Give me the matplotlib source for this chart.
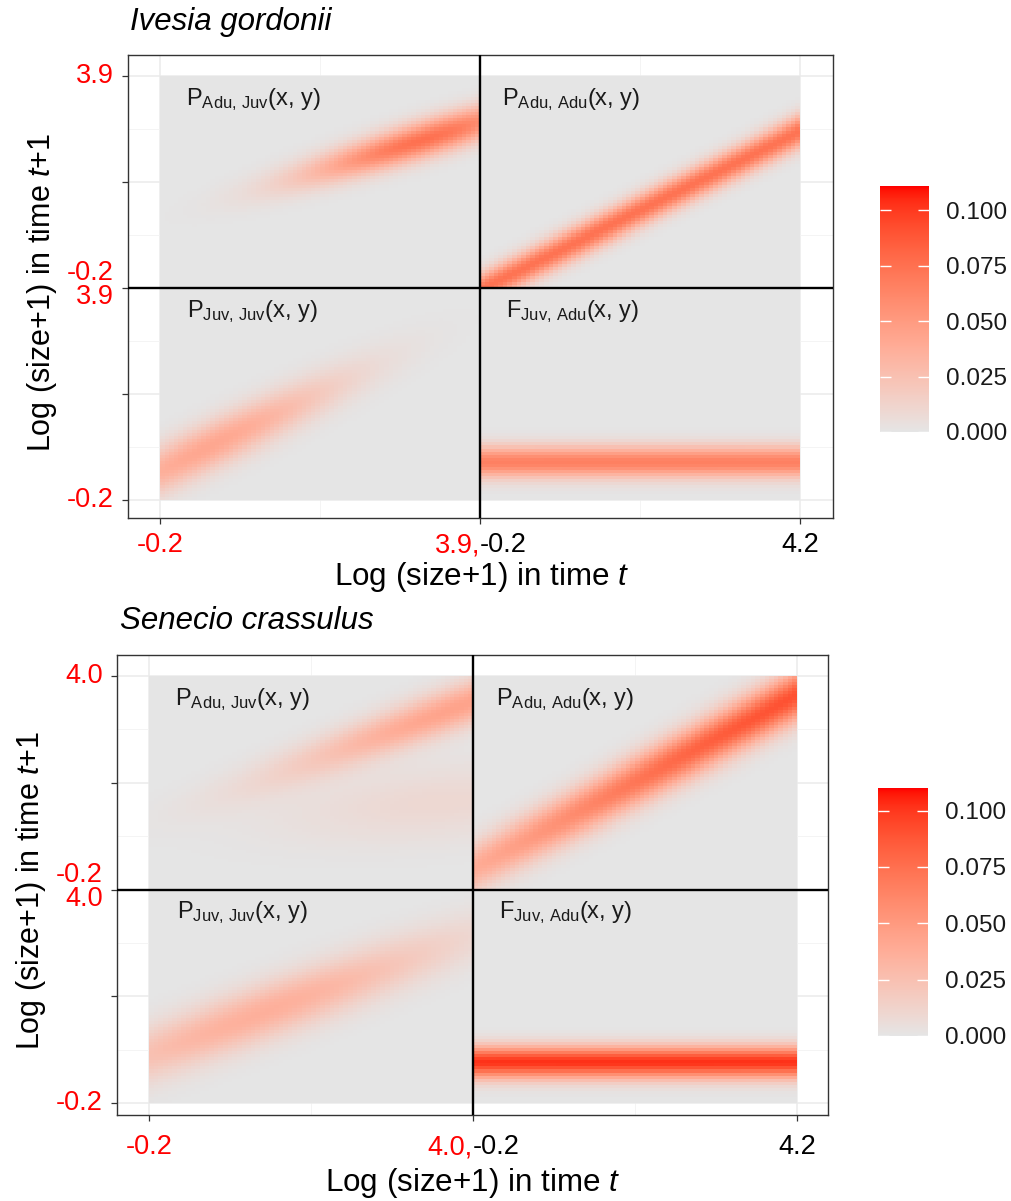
import numpy as np
import matplotlib
matplotlib.use("Agg")
import matplotlib.pyplot as plt
from matplotlib.colors import ListedColormap, Normalize
from matplotlib.transforms import offset_copy

plt.rcParams['font.family'] = ['Liberation Sans', 'DejaVu Sans']
plt.rcParams['mathtext.fontset'] = 'custom'
plt.rcParams['mathtext.rm'] = 'Liberation Sans'
plt.rcParams['mathtext.it'] = 'Liberation Sans:italic'
plt.rcParams['mathtext.bf'] = 'Liberation Sans:bold'

# ---------------- data ----------------
species = ["Ivesia gordonii", "Senecio crassulus"]
juv_max = ["3.9", "4.0"]          # upper size limit of juvenile range
size_min = "-0.2"
adu_max = "4.2"
block_labels = [r"P$_{\mathrm{Adu,\,Juv}}$(x, y)", r"P$_{\mathrm{Adu,\,Adu}}$(x, y)",
                r"P$_{\mathrm{Juv,\,Juv}}$(x, y)", r"F$_{\mathrm{Juv,\,Adu}}$(x, y)"]
cbar_ticks = [0.0, 0.025, 0.05, 0.075, 0.1]
vmax = [0.111, 0.110]
n_mesh = 70  # mesh points per stage

# kernel bands (block-relative units):
# [intercept, slope, sd, peak value, x of peak, x spread]
ig_P_juv_juv = [[0.14, 0.72, 0.078, 0.042, 0.15, 0.28]]
ig_P_adu_juv = [[0.33, 0.45, 0.058, 0.075, 0.82, 0.25]]
ig_P_adu_adu = [[-0.01, 0.75, 0.052, 0.074, 0.50, 5.0]]
ig_F_juv_adu = [[0.18, 0.00, 0.05, 0.066, 0.50, 5.0]]

sc_P_juv_juv = [[0.23, 0.55, 0.09, 0.036, 0.35, 0.40]]
sc_P_adu_juv = [[0.33, 0.55, 0.07, 0.044, 0.95, 0.35],
                [0.30, 0.12, 0.12, 0.009, 0.90, 0.35]]
sc_P_adu_adu = [[0.10, 0.81, 0.08, 0.090, 1.05, 0.80]]
sc_F_juv_adu = [[0.19, 0.00, 0.05, 0.102, 0.50, 5.0]]

# ---------------- colour scale (Lab interpolation grey90 -> red) ----------------
M_ = np.array([[0.4124564, 0.3575761, 0.1804375],
               [0.2126729, 0.7151522, 0.0721750],
               [0.0193339, 0.1191920, 0.9503041]])
WP = np.array([0.95047, 1.0, 1.08883])

def srgb_to_lab(c):
    c = np.asarray(c, float)
    lin = np.where(c <= 0.04045, c / 12.92, ((c + 0.055) / 1.055) ** 2.4)
    t = (M_ @ lin) / WP
    f = np.where(t > (6 / 29) ** 3, np.cbrt(t), t / (3 * (6 / 29) ** 2) + 4 / 29)
    return np.array([116 * f[1] - 16, 500 * (f[0] - f[1]), 200 * (f[1] - f[2])])

def lab_to_srgb(lab):
    L, a, b = lab
    fy_ = (L + 16) / 116
    f = np.array([fy_ + a / 500, fy_, fy_ - b / 200])
    t = np.where(f > 6 / 29, f ** 3, 3 * (6 / 29) ** 2 * (f - 4 / 29))
    lin = np.clip(np.linalg.inv(M_) @ (t * WP), 0, 1)
    c = np.where(lin <= 0.0031308, 12.92 * lin, 1.055 * lin ** (1 / 2.4) - 0.055)
    return np.clip(c, 0, 1)

lo = srgb_to_lab(np.array([0xE5, 0xE5, 0xE5]) / 255)
hi = srgb_to_lab(np.array([1.0, 0.0, 0.0]))
cols = [lab_to_srgb(lo + t * (hi - lo)) for t in np.linspace(0, 1, 256)]
cmap = ListedColormap(cols)

def block(params, n):
    u = (np.arange(n) + 0.5) / n
    U, V = np.meshgrid(u, u)
    out = np.zeros((n, n))
    for a, b, s, pk, um, uw in params:
        A = pk * np.exp(-0.5 * ((U - um) / uw) ** 2)
        out += A * np.exp(-0.5 * ((V - (a + b * U)) / s) ** 2)
    return out

def full_kernel(pjj, paj, paa, fja, n):
    K = np.zeros((2 * n, 2 * n))
    K[:n, :n] = block(pjj, n)
    K[n:, :n] = block(paj, n)
    K[n:, n:] = block(paa, n)
    K[:n, n:] = block(fja, n)
    return K

kernels = [full_kernel(ig_P_juv_juv, ig_P_adu_juv, ig_P_adu_adu, ig_F_juv_adu, n_mesh),
           full_kernel(sc_P_juv_juv, sc_P_adu_juv, sc_P_adu_adu, sc_F_juv_adu, n_mesh)]

# ---------------- layout (pixels) ----------------
W, H = 1011, 1201
fig = plt.figure(figsize=(W / 100, H / 100), dpi=100)

def fx(x): return x / W
def fy(y): return 1 - y / H

# axes box (left, right, top, bottom) and heat extent (left, right, top, bottom)
boxes = [(128, 833, 55, 518), (117, 828, 655, 1115)]
heats = [(160, 800, 76, 500), (149, 797, 676, 1103)]
cbars = [(880, 929, 186, 432), (878, 928, 788, 1036)]
titles_xy = [(130, 22), (120, 621)]
xlab_xy = [(482, 577), (473, 1183)]
ylab_xy = [(42, 292), (31, 890)]
xtick_off = [-14, -19]
lbl_pos = [(0.08, 1.89), (1.07, 1.89), (0.085, 0.89), (1.08, 0.89)]

for k in range(2):
    L, R, T, B = boxes[k]
    hl, hr, ht, hb = heats[k]
    ax = fig.add_axes([fx(L), fy(B), fx(R) - fx(L), fy(T) - fy(B)])
    ux = (hr - hl) / 2
    uy = (hb - ht) / 2
    ax.set_xlim((L - hl) / ux, (R - hl) / ux)
    ax.set_ylim((hb - B) / uy, (hb - T) / uy)
    ax.set_facecolor('white')
    norm = Normalize(0, vmax[k])
    im = ax.imshow(kernels[k], origin='lower', extent=[0, 2, 0, 2], aspect='auto',
                   cmap=cmap, norm=norm, interpolation='nearest', zorder=1)
    ax.set_xticks([0, 1, 2])
    ax.set_xticks([0.5, 1.5], minor=True)
    ax.set_yticks([0, 0.5, 1, 1.5, 2])
    ax.set_yticks([0.25, 0.75, 1.25, 1.75], minor=True)
    ax.grid(True, which='major', color='#EBEBEB', lw=1.1, zorder=0)
    ax.grid(True, which='minor', color='#F2F2F2', lw=0.6, zorder=0)
    ax.set_axisbelow(True)
    ax.tick_params(which='major', length=4, width=0.9, color='#333333')
    ax.tick_params(which='minor', length=0)
    ax.set_xticklabels([])
    ax.set_yticklabels([])
    for s in ax.spines.values():
        s.set_color('#333333')
        s.set_linewidth(1.0)
    ax.axhline(1, color='black', lw=1.7, zorder=3)
    ax.axvline(1, color='black', lw=1.7, zorder=3)
    for (tx, ty), lab in zip(lbl_pos, block_labels):
        ax.text(tx, ty, lab, fontsize=17, ha='left', va='center', color='#1A1A1A', zorder=4)

    # x tick labels
    xt = offset_copy(ax.get_xaxis_transform(), fig=fig, x=0, y=xtick_off[k], units='dots')
    fs_t = 19.5
    ax.text(0, 0, size_min, transform=xt, ha='center', va='top', fontsize=fs_t, color='red')
    ax.text(1, 0, juv_max[k] + ",", transform=xt, ha='right', va='top', fontsize=fs_t, color='red')
    ax.text(1, 0, size_min, transform=xt, ha='left', va='top', fontsize=fs_t, color='black')
    ax.text(2, 0, adu_max, transform=xt, ha='center', va='top', fontsize=fs_t, color='black')
    # y tick labels
    yt = offset_copy(ax.get_yaxis_transform(), fig=fig, x=-14, y=0, units='dots')
    ax.text(0, 0, size_min, transform=yt, ha='right', va='center', fontsize=fs_t, color='red')
    ax.text(0, 2, juv_max[k], transform=yt, ha='right', va='center', fontsize=fs_t, color='red')
    yt2 = offset_copy(ax.get_yaxis_transform(), fig=fig, x=-14, y=3, units='dots')
    ax.text(0, 1, size_min + "\n" + juv_max[k], transform=yt2, ha='right', va='center',
            fontsize=fs_t, color='red', linespacing=0.9, multialignment='right')

    fig.text(fx(titles_xy[k][0]), fy(titles_xy[k][1]), species[k], fontsize=22.5,
             style='italic', ha='left', va='center', color='black')
    fig.text(fx(xlab_xy[k][0]), fy(xlab_xy[k][1]), "Log (size+1) in time $t$", fontsize=22.6,
             ha='center', va='center', color='black')
    fig.text(fx(ylab_xy[k][0]), fy(ylab_xy[k][1]), "Log (size+1) in time $t$+1", fontsize=22,
             ha='center', va='center', rotation=90, color='black')

    cl, cr, ct, cb_ = cbars[k]
    cax = fig.add_axes([fx(cl), fy(cb_), fx(cr) - fx(cl), fy(ct) - fy(cb_)])
    cb = fig.colorbar(im, cax=cax, ticks=cbar_ticks)
    cb.outline.set_visible(False)
    cb.ax.set_yticklabels([f"{t:.3f}" for t in cbar_ticks])
    cb.ax.tick_params(direction='in', color='white', length=8, width=1, left=True, right=True,
                      labelright=True, labelsize=17.5, pad=12, labelcolor='#1A1A1A')

fig.savefig("out.png", dpi=100)
